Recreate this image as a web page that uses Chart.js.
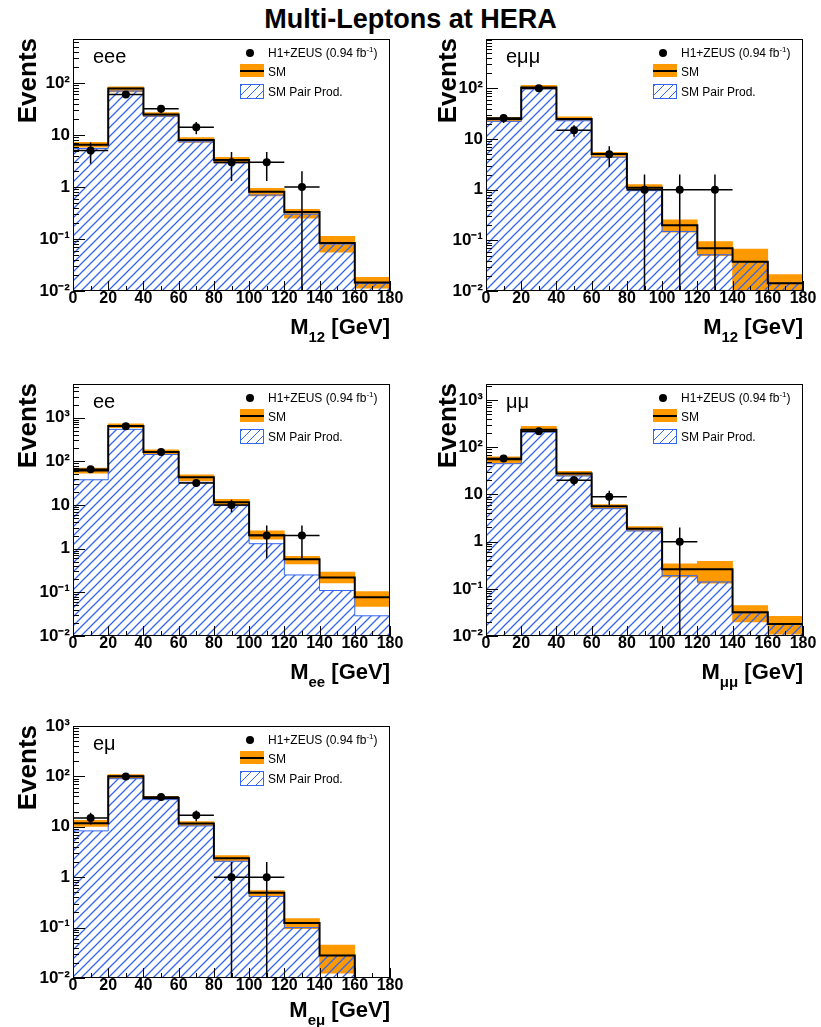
<!DOCTYPE html>
<html>
<head>
<meta charset="utf-8">
<script src="https://cdn.jsdelivr.net/npm/chart.js@4.4.1/dist/chart.umd.min.js"></script>
<style>
    body { margin: 0; background: #fff; }
    #page { position: relative; width: 821px; height: 1027px; overflow: hidden; font-family: 'Liberation Sans', Arial, sans-serif; color: #000; }
    canvas { position: absolute; }
    .txt { position: absolute; white-space: nowrap; }
    .title { left: 0; width: 821px; top: 4px; text-align: center; font-weight: bold; font-size: 27px; line-height: 30px; }
    .ytitle { width: 150px; height: 30px; text-align: right; font-weight: bold; font-size: 26px; line-height: 30px; transform-origin: 0 0; transform: rotate(-90deg); }
    .xtitle { width: 300px; text-align: right; font-weight: bold; font-size: 22px; line-height: 26px; }
    .xtitle sub { font-size: 15px; vertical-align: -8px; line-height: 0; }
    .chan { font-size: 20px; line-height: 24px; }
    .leg { font-size: 12px; line-height: 14px; }
    .leg sup { font-size: 8px; vertical-align: 5px; line-height: 0; }
    .box { position: absolute; }
</style>
</head>
<body>
<div id="page">
    <div class="txt title">Multi-Leptons at HERA</div>
</div>
<script>
// bins of the mass histograms, GeV
const binCentres = [10, 30, 50, 70, 90, 110, 130, 150, 170]
const binWidth = 20
const yTickLabels = { '-2': '10⁻²', '-1': '10⁻¹', '0': '1', '1': '10', '2': '10²', '3': '10³' }

// eee
const eeeSM = [6.5, 78, 24.8, 8.0, 3.3, 0.81, 0.33, 0.084, 0.0145]
const eeeSMLow = [5.8, 67, 22.5, 7.2, 2.83, 0.67, 0.25, 0.056, 0.0113]
const eeeSMHigh = [7.2, 84, 27, 8.9, 3.7, 0.94, 0.37, 0.113, 0.0184]
const eeePair = [5.5, 70, 23, 7.4, 2.9, 0.70, 0.30, 0.080, 0.014]
const eeeData = [5, 60, 32, 14, 3, 3, 1, null, null]
const eeeErr = [2.2, 7.7, 5.7, 3.7, 1.7, 1.7, 1.0, null, null]

// e mu mu
const emmSM = [25, 105, 25, 5.1, 1.1, 0.20, 0.070, 0.038, 0.0143]
const emmSMLow = [22.4, 97, 23.1, 4.35, 0.955, 0.146, 0.050, 0.008, 0.010]
const emmSMHigh = [26.9, 115, 27.7, 5.5, 1.26, 0.255, 0.095, 0.067, 0.021]
const emmPair = [22.5, 98, 23, 4.4, 0.96, 0.15, 0.052, 0.038, 0.0143]
const emmData = [26, 101, 15, 5, 1, 1, 1, null, null]
const emmErr = [5.1, 10, 3.9, 2.2, 1, 1, 1, null, null]

// ee
const eeSM = [62, 645, 164, 43, 11.5, 2.03, 0.57, 0.22, 0.077]
const eeSMLow = [53.8, 588, 143, 35.8, 9.66, 1.64, 0.45, 0.164, 0.0475]
const eeSMHigh = [70, 727, 183, 49.2, 13.5, 2.56, 0.665, 0.29, 0.104]
const eePair = [37.8, 540, 143, 33, 9.7, 1.3, 0.25, 0.11, 0.029]
const eeData = [66, 640, 164, 32, 10, 2, 2, null, null]
const eeErr = [8.1, 25, 12.8, 5.7, 3.2, 1.4, 1.4, null, null]

// mu mu
const mmSM = [56, 235, 28, 5.6, 1.87, 0.26, 0.26, 0.032, 0.018]
const mmSMLow = [45.4, 210, 24.7, 5.0, 1.69, 0.178, 0.132, 0.020, 0.0109]
const mmSMHigh = [63, 277, 31.1, 6.1, 2.1, 0.338, 0.385, 0.044, 0.026]
const mmPair = [45, 210, 24.7, 5.0, 1.69, 0.19, 0.14, 0.031, 0.018]
const mmData = [58, 220, 20, 9, null, 1, null, null, null]
const mmErr = [7.6, 14.8, 4.5, 3, null, 1, null, null, null]

// e mu
const emSM = [11.8, 101, 37.3, 11.6, 2.37, 0.49, 0.124, 0.028, 0]
const emSMLow = [10.2, 90, 34.6, 10.5, 2.07, 0.415, 0.0955, 0.0124, null]
const emSMHigh = [13.5, 109, 40.3, 12.7, 2.68, 0.54, 0.151, 0.0448, null]
const emPair = [8.3, 90, 34.6, 10.4, 2.07, 0.415, 0.10, 0.028, 0]
const emData = [15, 100, 39, 17, 1, 1, null, null, null]
const emErr = [3.9, 10, 6.2, 4.1, 1, 1, null, null, null]

const smOrange = '#ff9900'
const hatchBlue = '#3366f0'
const fontFamily = "'Liberation Sans', Arial, sans-serif"
const yMin = 0.01
// a log axis cannot show 0: empty bins and error bars down to 0 go below the frame and are clipped
const belowAxis = 1e-4

const panels = [
    { chan: 'eee', sub: '12', left: 0, top: 30, yMax: 700, titleX: 36, xTitleDy: 44, sm: eeeSM, lo: eeeSMLow, hi: eeeSMHigh, pair: eeePair, data: eeeData, err: eeeErr },
    { chan: 'eμμ', sub: '12', left: 413, top: 30, yMax: 950, titleX: 456, xTitleDy: 44, sm: emmSM, lo: emmSMLow, hi: emmSMHigh, pair: emmPair, data: emmData, err: emmErr },
    { chan: 'ee', sub: 'ee', left: 0, top: 375, yMax: 5900, titleX: 36, xTitleDy: 44, sm: eeSM, lo: eeSMLow, hi: eeSMHigh, pair: eePair, data: eeData, err: eeErr },
    { chan: 'μμ', sub: 'μμ', left: 413, top: 375, yMax: 2200, titleX: 456, xTitleDy: 44, sm: mmSM, lo: mmSMLow, hi: mmSMHigh, pair: mmPair, data: mmData, err: mmErr },
    { chan: 'eμ', sub: 'eμ', left: 0, top: 717, yMax: 1000, titleX: 36, xTitleDy: 40, sm: emSM, lo: emSMLow, hi: emSMHigh, pair: emPair, data: emData, err: emErr },
]

// canvas size and plot frame inside it
const CW = 410, CH = 320
const FRAME = { left: 73, top: 9, right: 390, bottom: 261 }

const page = document.getElementById('page')

function hatchPattern() {
    const s = 9
    const c = document.createElement('canvas')
    c.width = s
    c.height = s
    const g = c.getContext('2d')
    g.strokeStyle = hatchBlue
    g.lineWidth = 1.3
    g.beginPath()
    g.moveTo(0, s); g.lineTo(s, 0)
    g.moveTo(-2, 2); g.lineTo(2, -2)
    g.moveTo(s - 2, s + 2); g.lineTo(s + 2, s - 2)
    g.stroke()
    return g.createPattern(c, 'repeat')
}

const onAxis = (v) => (v === 0 ? belowAxis : v)

// histogram outline: value i holds from left edge of bin i to the next edge
function stepPoints(values) {
    const pts = values.map((v, i) => ({ x: binCentres[i] - binWidth / 2, y: onAxis(v) }))
    const last = values.length - 1
    pts.push({ x: binCentres[last] + binWidth / 2, y: onAxis(values[last]) })
    return pts
}

function bandBars(lo, hi) {
    return binCentres.map((x, i) => ({ x, y: hi[i] == null ? null : [lo[i], hi[i]] }))
}

function errorSegments(vals, errs) {
    const pts = []
    binCentres.forEach((x, i) => {
        if (vals[i] == null) return
        pts.push({ x: x - binWidth / 2, y: vals[i] }, { x: x + binWidth / 2, y: vals[i] }, { x, y: null })
        pts.push({ x, y: onAxis(Math.max(vals[i] - errs[i], 0)) }, { x, y: vals[i] + errs[i] }, { x, y: null })
    })
    return pts
}

const frameTicks = {
    id: 'frameTicks',
    afterDatasetsDraw(chart) {
        const { ctx, chartArea: a, scales: { x, y } } = chart
        ctx.save()
        ctx.strokeStyle = '#000'
        ctx.lineWidth = 1
        ctx.beginPath()
        for (let v = x.min; v <= x.max; v += 10) {
            const px = Math.round(x.getPixelForValue(v)) + 0.5
            const len = v % 20 === 0 ? 10 : 5
            ctx.moveTo(px, a.bottom)
            ctx.lineTo(px, a.bottom - len)
        }
        y.ticks.forEach((t) => {
            const e = Math.floor(Math.log10(t.value) + 1e-9)
            const m = t.value / Math.pow(10, e)
            if (Math.abs(m - Math.round(m)) > 1e-6) return
            const py = Math.round(y.getPixelForValue(t.value)) + 0.5
            const len = Math.round(m) === 1 ? 12 : 6
            ctx.moveTo(a.left, py)
            ctx.lineTo(a.left + len, py)
        })
        ctx.stroke()
        ctx.strokeRect(a.left + 0.5, a.top + 0.5, a.right - a.left - 1, a.bottom - a.top - 1)
        ctx.restore()
    },
}

function addText(cls, html, css) {
    const d = document.createElement('div')
    d.className = 'txt ' + cls
    d.innerHTML = html
    Object.assign(d.style, css)
    page.appendChild(d)
    return d
}

function addBox(css) {
    const d = document.createElement('div')
    d.className = 'box'
    Object.assign(d.style, css)
    page.appendChild(d)
    return d
}

panels.forEach((p) => {
    const canvas = document.createElement('canvas')
    canvas.width = CW
    canvas.height = CH
    canvas.style.left = p.left + 'px'
    canvas.style.top = p.top + 'px'
    page.appendChild(canvas)

    new Chart(canvas.getContext('2d'), {
        type: 'bar',
        data: {
            datasets: [
                {
                    label: 'SM',
                    data: bandBars(p.lo, p.hi),
                    backgroundColor: smOrange,
                    borderWidth: 0,
                    barPercentage: 1,
                    categoryPercentage: 1,
                    grouped: false,
                    order: 5,
                },
                {
                    type: 'line',
                    label: 'SM Pair Prod.',
                    data: stepPoints(p.pair),
                    stepped: 'before',
                    borderColor: hatchBlue,
                    borderWidth: 1,
                    backgroundColor: hatchPattern(),
                    fill: 'start',
                    pointRadius: 0,
                    order: 4,
                },
                {
                    type: 'line',
                    label: 'SM line',
                    data: stepPoints(p.sm),
                    stepped: 'before',
                    borderColor: '#000',
                    borderWidth: 2,
                    fill: false,
                    pointRadius: 0,
                    order: 3,
                },
                {
                    type: 'line',
                    label: 'errors',
                    data: errorSegments(p.data, p.err),
                    borderColor: '#000',
                    borderWidth: 1.5,
                    spanGaps: false,
                    fill: false,
                    pointRadius: 0,
                    order: 2,
                },
                {
                    type: 'line',
                    label: 'H1+ZEUS (0.94 fb-1)',
                    data: binCentres.map((x, i) => ({ x, y: p.data[i] })),
                    showLine: false,
                    pointRadius: 4,
                    pointBackgroundColor: '#000',
                    pointBorderWidth: 0,
                    order: 1,
                },
            ],
        },
        options: {
            responsive: false,
            animation: false,
            devicePixelRatio: 1,
            layout: { padding: { top: FRAME.top, right: CW - FRAME.right, left: 0, bottom: 0 } },
            plugins: { legend: { display: false }, tooltip: { enabled: false } },
            scales: {
                x: {
                    type: 'linear',
                    min: 0,
                    max: 180,
                    offset: false,
                    grid: { display: false, drawTicks: false },
                    border: { display: false },
                    ticks: {
                        stepSize: 20,
                        padding: -2,
                        autoSkip: false,
                        maxRotation: 0,
                        color: '#000',
                        font: { family: fontFamily, weight: 'bold', size: 16 },
                    },
                    afterFit: (s) => {
                        s.height = CH - FRAME.bottom
                        s.paddingLeft = 0
                        s.paddingRight = 0
                    },
                },
                y: {
                    type: 'logarithmic',
                    min: yMin,
                    max: p.yMax,
                    grid: { display: false, drawTicks: false },
                    border: { display: false },
                    ticks: {
                        padding: 3,
                        autoSkip: false,
                        color: '#000',
                        font: { family: fontFamily, weight: 'bold', size: 17 },
                        callback: (v) => {
                            const e = Math.log10(v)
                            if (Math.abs(e - Math.round(e)) > 1e-6) return ''
                            return yTickLabels[String(Math.round(e))] || ''
                        },
                    },
                    afterFit: (s) => {
                        s.width = FRAME.left
                        s.paddingTop = 0
                        s.paddingBottom = 0
                    },
                },
            },
        },
        plugins: [frameTicks],
    })

    // page coordinates of the plot frame
    const L = p.left + FRAME.left
    const T = p.top + FRAME.top
    const R = p.left + FRAME.right
    const B = p.top + FRAME.bottom

    addText('ytitle', 'Events', { left: (p.titleX - 24) + 'px', top: (T - 1 + 150) + 'px' })
    addText('xtitle', 'M<sub>' + p.sub + '</sub> [GeV]', { left: (R - 300) + 'px', top: (B + p.xTitleDy - 20.6) + 'px' })
    addText('chan', p.chan, { left: (L + 20) + 'px', top: (T + 4.6) + 'px' })

    // legend
    addBox({ left: (L + 173) + 'px', top: (T + 10) + 'px', width: '8px', height: '8px', borderRadius: '50%', background: '#000' })
    addText('leg', 'H1+ZEUS (0.94 fb<sup>-1</sup>)', { left: (L + 195) + 'px', top: (T + 7) + 'px' })
    const smBox = addBox({ left: (L + 167) + 'px', top: (T + 25) + 'px', width: '24px', height: '13px', background: smOrange })
    smBox.appendChild(Object.assign(document.createElement('div'), {
        style: 'position:absolute;left:0;right:0;top:5.5px;height:2px;background:#000',
    }))
    addText('leg', 'SM', { left: (L + 195) + 'px', top: (T + 26) + 'px' })
    addBox({
        left: (L + 167) + 'px', top: (T + 45) + 'px', width: '22px', height: '13px',
        border: '1px solid ' + hatchBlue,
        background: 'repeating-linear-gradient(135deg, ' + hatchBlue + ' 0 1.2px, transparent 1.2px 6.4px)',
    })
    addText('leg', 'SM Pair Prod.', { left: (L + 195) + 'px', top: (T + 46) + 'px' })
})
</script>
</body>
</html>
